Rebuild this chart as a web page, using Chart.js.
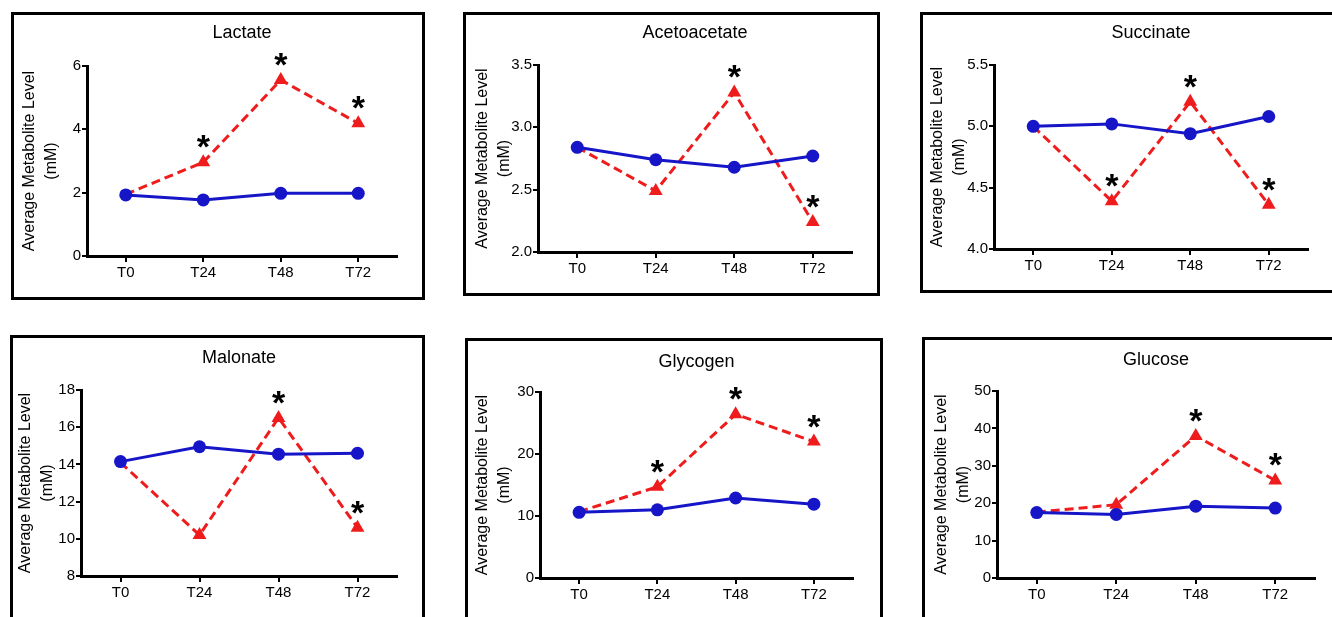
<!DOCTYPE html>
<html>
<head>
<meta charset="utf-8">
<script src="https://cdn.jsdelivr.net/npm/chart.js"></script>
<style>
  body { margin: 0; background: #fff; width: 1332px; height: 617px; overflow: hidden; position: relative; }
  .box { position: absolute; border: 3px solid #000; box-sizing: border-box; overflow: hidden; }
  .box canvas { position: absolute; left: 0; top: 0; }
</style>
</head>
<body>
<script>
const timepoints = ['T0', 'T24', 'T48', 'T72'];

// blue = control, red = treated; stars mark significant treated points
const lactateControl = [1.93, 1.77, 1.98, 1.98];
const lactateTreated = [1.95, 2.96, 5.56, 4.19];
const lactateStars = [false, true, true, true];

const acetoControl = [2.84, 2.74, 2.68, 2.77];
const acetoTreated = [2.84, 2.49, 3.28, 2.24];
const acetoStars = [false, false, true, true];

const succinateControl = [5.00, 5.02, 4.94, 5.08];
const succinateTreated = [5.00, 4.39, 5.20, 4.36];
const succinateStars = [false, true, true, true];

const malonateControl = [14.15, 14.95, 14.55, 14.6];
const malonateTreated = [14.1, 10.2, 16.5, 10.6];
const malonateStars = [false, false, true, true];

const glycogenControl = [10.6, 11.0, 12.9, 11.9];
const glycogenTreated = [10.7, 14.7, 26.4, 22.0];
const glycogenStars = [false, true, true, true];

const glucoseControl = [17.5, 17.0, 19.2, 18.7];
const glucoseTreated = [17.6, 19.6, 38.0, 26.1];
const glucoseStars = [false, false, true, true];

const yTitle = ['Average Metabolite Level', '(mM)'];
const FONT = '"Liberation Sans", Arial, sans-serif';

// box = outer frame [L,T,R,B], area = plot area [l,t,r,b], page pixels
const panels = [
  { title: 'Lactate', control: lactateControl, treated: lactateTreated, stars: lactateStars,
    min: 0, max: 6, step: 2, dec: 0, box: [11, 12, 425, 300], area: [87, 66, 397, 256], titleY: 33, yTitleX: 30 },
  { title: 'Acetoacetate', control: acetoControl, treated: acetoTreated, stars: acetoStars,
    min: 2, max: 3.5, step: 0.5, dec: 1, box: [463, 12, 880, 296], area: [538, 65, 852, 252], titleY: 33, yTitleX: 483 },
  { title: 'Succinate', control: succinateControl, treated: succinateTreated, stars: succinateStars,
    min: 4, max: 5.5, step: 0.5, dec: 1, box: [920, 12, 1345, 293], area: [994, 65, 1308, 249], titleY: 33, yTitleX: 938 },
  { title: 'Malonate', control: malonateControl, treated: malonateTreated, stars: malonateStars,
    min: 8, max: 18, step: 2, dec: 0, box: [10, 335, 425, 635], area: [81, 390, 397, 576], titleY: 358, yTitleX: 26 },
  { title: 'Glycogen', control: glycogenControl, treated: glycogenTreated, stars: glycogenStars,
    min: 0, max: 30, step: 10, dec: 0, box: [465, 338, 883, 635], area: [540, 392, 853, 578], titleY: 362, yTitleX: 483 },
  { title: 'Glucose', control: glucoseControl, treated: glucoseTreated, stars: glucoseStars,
    min: 0, max: 50, step: 10, dec: 0, box: [922, 337, 1345, 635], area: [997, 391, 1315, 578], titleY: 360, yTitleX: 942 }
];

// draws the * above flagged red points
const starPlugin = {
  id: 'stars',
  afterDatasetsDraw(chart, args, opts) {
    const meta = chart.getDatasetMeta(1);
    const ctx = chart.ctx;
    ctx.save();
    ctx.fillStyle = '#000';
    ctx.font = 'bold 34px ' + FONT;
    ctx.textAlign = 'center';
    ctx.textBaseline = 'alphabetic';
    opts.flags.forEach((f, i) => {
      if (!f) return;
      const pt = meta.data[i];
      ctx.fillText('*', pt.x, pt.y - 4);
    });
    ctx.restore();
  }
};

panels.forEach(p => {
  const [L, T, R, B] = p.box;
  const [l, t, r, b] = p.area;
  const div = document.createElement('div');
  div.className = 'box';
  div.style.left = L + 'px';
  div.style.top = T + 'px';
  div.style.width = (R - L) + 'px';
  div.style.height = (B - T) + 'px';
  document.body.appendChild(div);

  const cl = L + 3, ct = T + 3, cw = R - L - 6, ch = B - T - 6;
  const canvas = document.createElement('canvas');
  canvas.width = cw;
  canvas.height = ch;
  canvas.style.width = cw + 'px';
  canvas.style.height = ch + 'px';
  div.appendChild(canvas);

  const titleLH = 18 * 1.2;
  const titleTop = p.titleY - ct - titleLH / 2;
  const titleBottom = (t - ct) - titleLH - titleTop;

  new Chart(canvas.getContext('2d'), {
    type: 'line',
    data: {
      labels: timepoints,
      datasets: [
        {
          data: p.control,
          borderColor: '#1616c8',
          backgroundColor: '#1616c8',
          borderWidth: 3,
          pointStyle: 'circle',
          pointRadius: 6.5,
          pointBorderWidth: 0,
          tension: 0
        },
        {
          data: p.treated,
          borderColor: '#ee1c1c',
          backgroundColor: '#ee1c1c',
          borderWidth: 3,
          borderDash: [9, 5],
          pointStyle: 'triangle',
          // the T0 triangle sits behind the blue circle
          pointRadius: ctx => (ctx.dataIndex === 0 ? 5 : 8),
          pointBorderWidth: 0,
          tension: 0
        }
      ]
    },
    options: {
      responsive: false,
      animation: false,
      devicePixelRatio: 1,
      layout: { padding: { left: 0, top: 0, right: (cl + cw) - r, bottom: 0 } },
      plugins: {
        legend: { display: false },
        tooltip: { enabled: false },
        title: {
          display: true,
          text: p.title,
          fullSize: false,
          color: '#000',
          font: { family: FONT, size: 18, weight: 'normal', lineHeight: 1.2 },
          padding: { top: titleTop, bottom: titleBottom }
        },
        stars: { flags: p.stars }
      },
      scales: {
        x: {
          offset: true,
          afterFit: s => { s.height = (ct + ch) - b; },
          border: { color: '#000', width: 3 },
          grid: { drawOnChartArea: false, drawTicks: true, tickLength: 6, color: '#000', lineWidth: 2 },
          ticks: { color: '#000', padding: 2, font: { family: FONT, size: 15 } }
        },
        y: {
          min: p.min,
          max: p.max,
          afterFit: s => { s.width = l - cl; },
          border: { color: '#000', width: 3 },
          grid: { drawOnChartArea: false, drawTicks: true, tickLength: 5, color: '#000', lineWidth: 2 },
          ticks: {
            stepSize: p.step,
            color: '#000',
            padding: 1,
            font: { family: FONT, size: 15 },
            callback: v => v.toFixed(p.dec)
          },
          title: {
            display: true,
            text: yTitle,
            color: '#000',
            font: { family: FONT, size: 16, lineHeight: 22 / 16 },
            padding: { top: (p.yTitleX - cl) - 11, bottom: 0 }
          }
        }
      }
    },
    plugins: [starPlugin]
  });
});
</script>
</body>
</html>
